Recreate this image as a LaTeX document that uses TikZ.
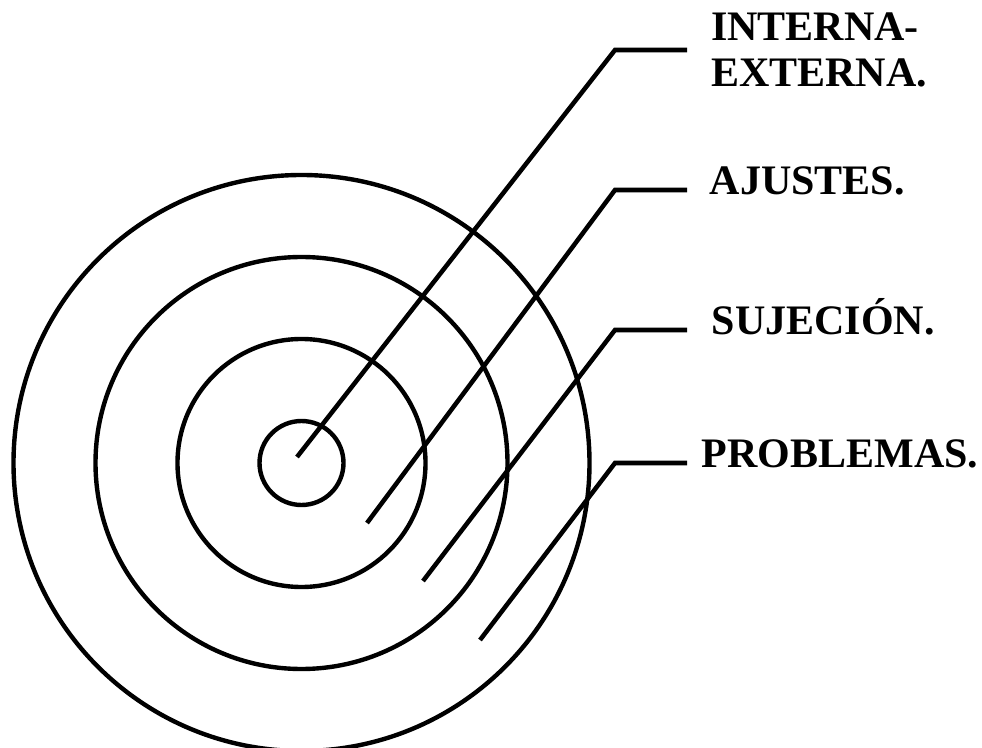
\documentclass[tikz,border=0pt]{standalone}
\usepackage{fontspec}
\setmainfont{Liberation Serif}
\usepackage{xcolor}
\usepackage{tikz}
\usetikzlibrary{positioning, calc}

\begin{document}
\begin{tikzpicture}[x=0.75pt, y=-0.75pt,
    ring/.style={line width=3.3pt},
    leader/.style={line width=3.4pt},
    tag/.style={inner sep=0pt, align=left,
                font=\fontsize{31.5}{34.5}\selectfont\bfseries},
    onerow/.style={text height=0.64em, text depth=0pt}]
  \useasboundingbox (0,0) rectangle (982,748);
  \coordinate (ctr) at (301.5,463);
  \foreach \r in {42,124,206,288}
    \draw[ring] (ctr) circle[radius=\r];

  \coordinate (s1) at (297,457);
  \coordinate (k1) at (615,50);
  \coordinate (e1) at (687,50);
  \coordinate (s2) at (367,523);
  \coordinate (k2) at (615,190);
  \coordinate (e2) at (687,190);
  \coordinate (s3) at (423,581);
  \coordinate (k3) at (615,330);
  \coordinate (e3) at (687,330);
  \coordinate (s4) at (480,640);
  \coordinate (k4) at (615,463);
  \coordinate (e4) at (687,463);

  \node[tag, right=18pt of e1] (interna) {INTERNA-\\EXTERNA.};
  \node[tag, onerow, right=17pt of e2] (ajustes) {AJUSTES.};
  \node[tag, onerow, right=18.5pt of e3] (sujecion) {SUJECIÓN.};
  \node[tag, onerow, right=11pt of e4] (problemas) {PROBLEMAS.};

  \draw[leader] (s1) -- (k1) -- (e1);
  \draw[leader] (s2) -- (k2) -- (e2);
  \draw[leader] (s3) -- (k3) -- (e3);
  \draw[leader] (s4) -- (k4) -- (e4);
\end{tikzpicture}
\end{document}
